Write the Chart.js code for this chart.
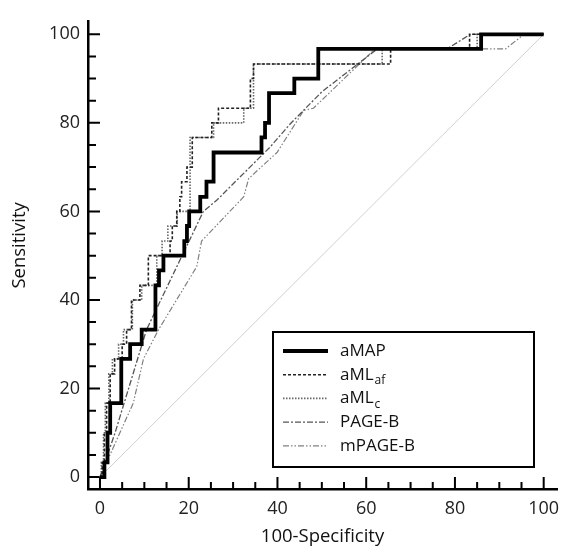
<!DOCTYPE html>
<html>
<head>
<meta charset="utf-8">
<script src="https://cdn.jsdelivr.net/npm/chart.js@4.4.1/dist/chart.umd.min.js"></script>
<style>
  html, body { margin: 0; padding: 0; background: #fff; }
  #wrap { width: 581px; height: 554px; }
</style>
</head>
<body>
<div id="wrap"><canvas id="roc" width="581" height="554"></canvas></div>
<script>
// ROC curves, values (x = 100-specificity, y = sensitivity)
const seriesNames = ['aMAP', 'aML', 'aML', 'PAGE-B', 'mPAGE-B'];
const seriesSubs = ['', 'af', 'c', '', ''];

const aMapX = [0, 1.0, 1.7, 2.3, 4.8, 6.8, 9.4, 12.5, 13.3, 14.3, 19.0, 19.6, 20.1, 22.6, 24.0, 25.6, 36.4, 37.2, 38.1, 43.8, 49.2, 85.9, 100];
const aMapY = [0, 3.3, 10, 16.7, 26.7, 30, 33.3, 43.3, 46.7, 50, 53.3, 56.7, 60, 63.3, 66.7, 73.3, 76.7, 80, 86.7, 90, 96.7, 100, 100];

const amlAfX = [0, 0.5, 1.0, 1.5, 2.3, 3.3, 5.0, 6.0, 7.1, 9.0, 10.9, 15.8, 16.3, 17.3, 18.0, 18.4, 19.6, 20.8, 25.2, 26.7, 33.9, 34.6, 65.5, 83.3, 100];
const amlAfY = [0, 3.3, 10, 16.7, 23.3, 26.7, 30, 33.3, 40, 43.3, 50, 53.3, 56.7, 60, 63.3, 66.7, 70, 76.7, 80, 83.3, 90, 93.3, 96.7, 100, 100];

const amlCX = [0, 0.3, 0.8, 1.2, 2.0, 2.8, 4.2, 5.3, 7.3, 9.4, 12.8, 14.0, 15.3, 17.4, 20.3, 25.6, 32.4, 34.6, 63.6, 85.0, 100];
const amlCY = [0, 3.3, 10, 16.7, 23.3, 26.7, 30, 33.3, 40, 43.3, 50, 53.3, 56.7, 60, 76.7, 80, 83.3, 93.3, 96.7, 100, 100];

const pageBX = [0, 3.4, 10.5, 23.3, 26.3, 38.4, 42.9, 50, 62.5, 78.2, 83.5, 100];
const pageBY = [0, 10, 33.3, 60, 62.5, 74.6, 79.8, 87, 96.7, 96.7, 100, 100];

const mPageBX = [0, 7.5, 9.8, 13.2, 21.8, 22.9, 32.4, 33.5, 39.9, 45.9, 48.1, 62, 91.4, 95.6, 100];
const mPageBY = [0, 16.7, 26.7, 33.3, 47.5, 53.3, 63.3, 67.4, 73.3, 82.8, 83.3, 96.7, 96.7, 100, 100];

const refX = [0, 100];
const refY = [0, 100];

const xTicks = [0, 20, 40, 60, 80, 100];
const yTicks = [0, 20, 40, 60, 80, 100];
const minorTicks = [0, 5, 10, 15, 20, 25, 30, 35, 40, 45, 50, 55, 60, 65, 70, 75, 80, 85, 90, 95, 100];

const pts = (xs, ys) => xs.map((x, i) => ({ x: x, y: ys[i] }));

// inward tick marks like the original plot
const innerTicks = {
  id: 'innerTicks',
  beforeDatasetsDraw(chart) {
    const { ctx, chartArea, scales: { x, y } } = chart;
    ctx.save();
    ctx.strokeStyle = '#000';
    ctx.lineWidth = 2;
    ctx.beginPath();
    minorTicks.forEach(v => {
      const major = v % 20 === 0;
      const px = x.getPixelForValue(v);
      ctx.moveTo(px, chartArea.bottom);
      ctx.lineTo(px, chartArea.bottom - (major ? 12 : 7));
      const py = y.getPixelForValue(v);
      ctx.moveTo(chartArea.left, py);
      ctx.lineTo(chartArea.left + (major ? 12 : 8), py);
    });
    ctx.stroke();
    ctx.restore();
  }
};

// boxed legend with subscripts
const rocLegend = {
  id: 'rocLegend',
  afterDatasetsDraw(chart) {
    const { ctx, chartArea } = chart;
    const w = 261, h = 135;
    const left = chartArea.right - 23 - w;
    const top = chartArea.bottom - 22 - h;
    ctx.save();
    ctx.fillStyle = '#fff';
    ctx.fillRect(left, top, w, h);
    ctx.strokeStyle = '#000';
    ctx.lineWidth = 2;
    ctx.strokeRect(left, top, w, h);
    seriesNames.forEach((name, i) => {
      const ds = chart.data.datasets[i];
      const y = top + 19 + i * 23.7;
      ctx.beginPath();
      ctx.setLineDash(ds.borderDash || []);
      ctx.strokeStyle = ds.borderColor;
      ctx.lineWidth = ds.borderWidth;
      ctx.moveTo(left + 10, y);
      ctx.lineTo(left + 55, y);
      ctx.stroke();
      ctx.setLineDash([]);
      ctx.fillStyle = '#111';
      ctx.font = '17px "Open Sans"';
      ctx.textBaseline = 'middle';
      ctx.fillText(name, left + 67, y);
      if (seriesSubs[i]) {
        const nw = ctx.measureText(name).width;
        ctx.font = '12px "Open Sans"';
        ctx.fillText(seriesSubs[i], left + 67 + nw + 1, y + 6);
      }
    });
    ctx.restore();
  }
};

const tickFont = { family: 'Open Sans', size: 18 };
const titleFont = { family: 'Open Sans', size: 18.5 };

new Chart(document.getElementById('roc'), {
  type: 'line',
  data: {
    datasets: [
      { data: pts(aMapX, aMapY), stepped: 'before', borderColor: '#000', borderWidth: 3.8, borderDash: [], borderCapStyle: 'butt', borderJoinStyle: 'miter' },
      { data: pts(amlAfX, amlAfY), stepped: 'before', borderColor: '#222', borderWidth: 1.6, borderDash: [3, 2] },
      { data: pts(amlCX, amlCY), stepped: 'before', borderColor: '#666', borderWidth: 1.6, borderDash: [1.5, 1.5] },
      { data: pts(pageBX, pageBY), borderColor: '#555', borderWidth: 1.3, borderDash: [6, 2, 2, 2] },
      { data: pts(mPageBX, mPageBY), borderColor: '#808080', borderWidth: 1.2, borderDash: [6, 2, 1.5, 2, 1.5, 2] },
      { data: pts(refX, refY), borderColor: '#d0d0d0', borderWidth: 1 }
    ]
  },
  options: {
    responsive: false,
    animation: false,
    events: [],
    devicePixelRatio: 1,
    layout: { padding: { top: 21, right: 24, left: 0, bottom: 0 } },
    elements: { point: { radius: 0 }, line: { tension: 0, fill: false } },
    plugins: { legend: { display: false }, tooltip: { enabled: false } },
    scales: {
      x: {
        type: 'linear',
        min: -2.7,
        max: 103,
        afterFit: s => { s.height = 65; },
        afterBuildTicks: s => { s.ticks = xTicks.map(v => ({ value: v })); },
        grid: { display: false, drawTicks: false },
        border: { display: true, color: '#000', width: 2.5 },
        ticks: { padding: 9, color: '#222', font: tickFont, maxRotation: 0, autoSkip: false },
        title: { display: true, text: '100-Specificity', color: '#111', font: titleFont, padding: { bottom: 6 } }
      },
      y: {
        type: 'linear',
        min: -2.7,
        max: 103,
        afterFit: s => { s.width = 88; },
        afterBuildTicks: s => { s.ticks = yTicks.map(v => ({ value: v })); },
        grid: { display: false, drawTicks: false },
        border: { display: true, color: '#000', width: 2.5 },
        ticks: { padding: 8, color: '#222', font: tickFont, autoSkip: false },
        title: { display: true, text: '    Sensitivity', color: '#111', font: titleFont, padding: { top: 9 } }
      }
    }
  },
  plugins: [innerTicks, rocLegend]
});
</script>
</body>
</html>
